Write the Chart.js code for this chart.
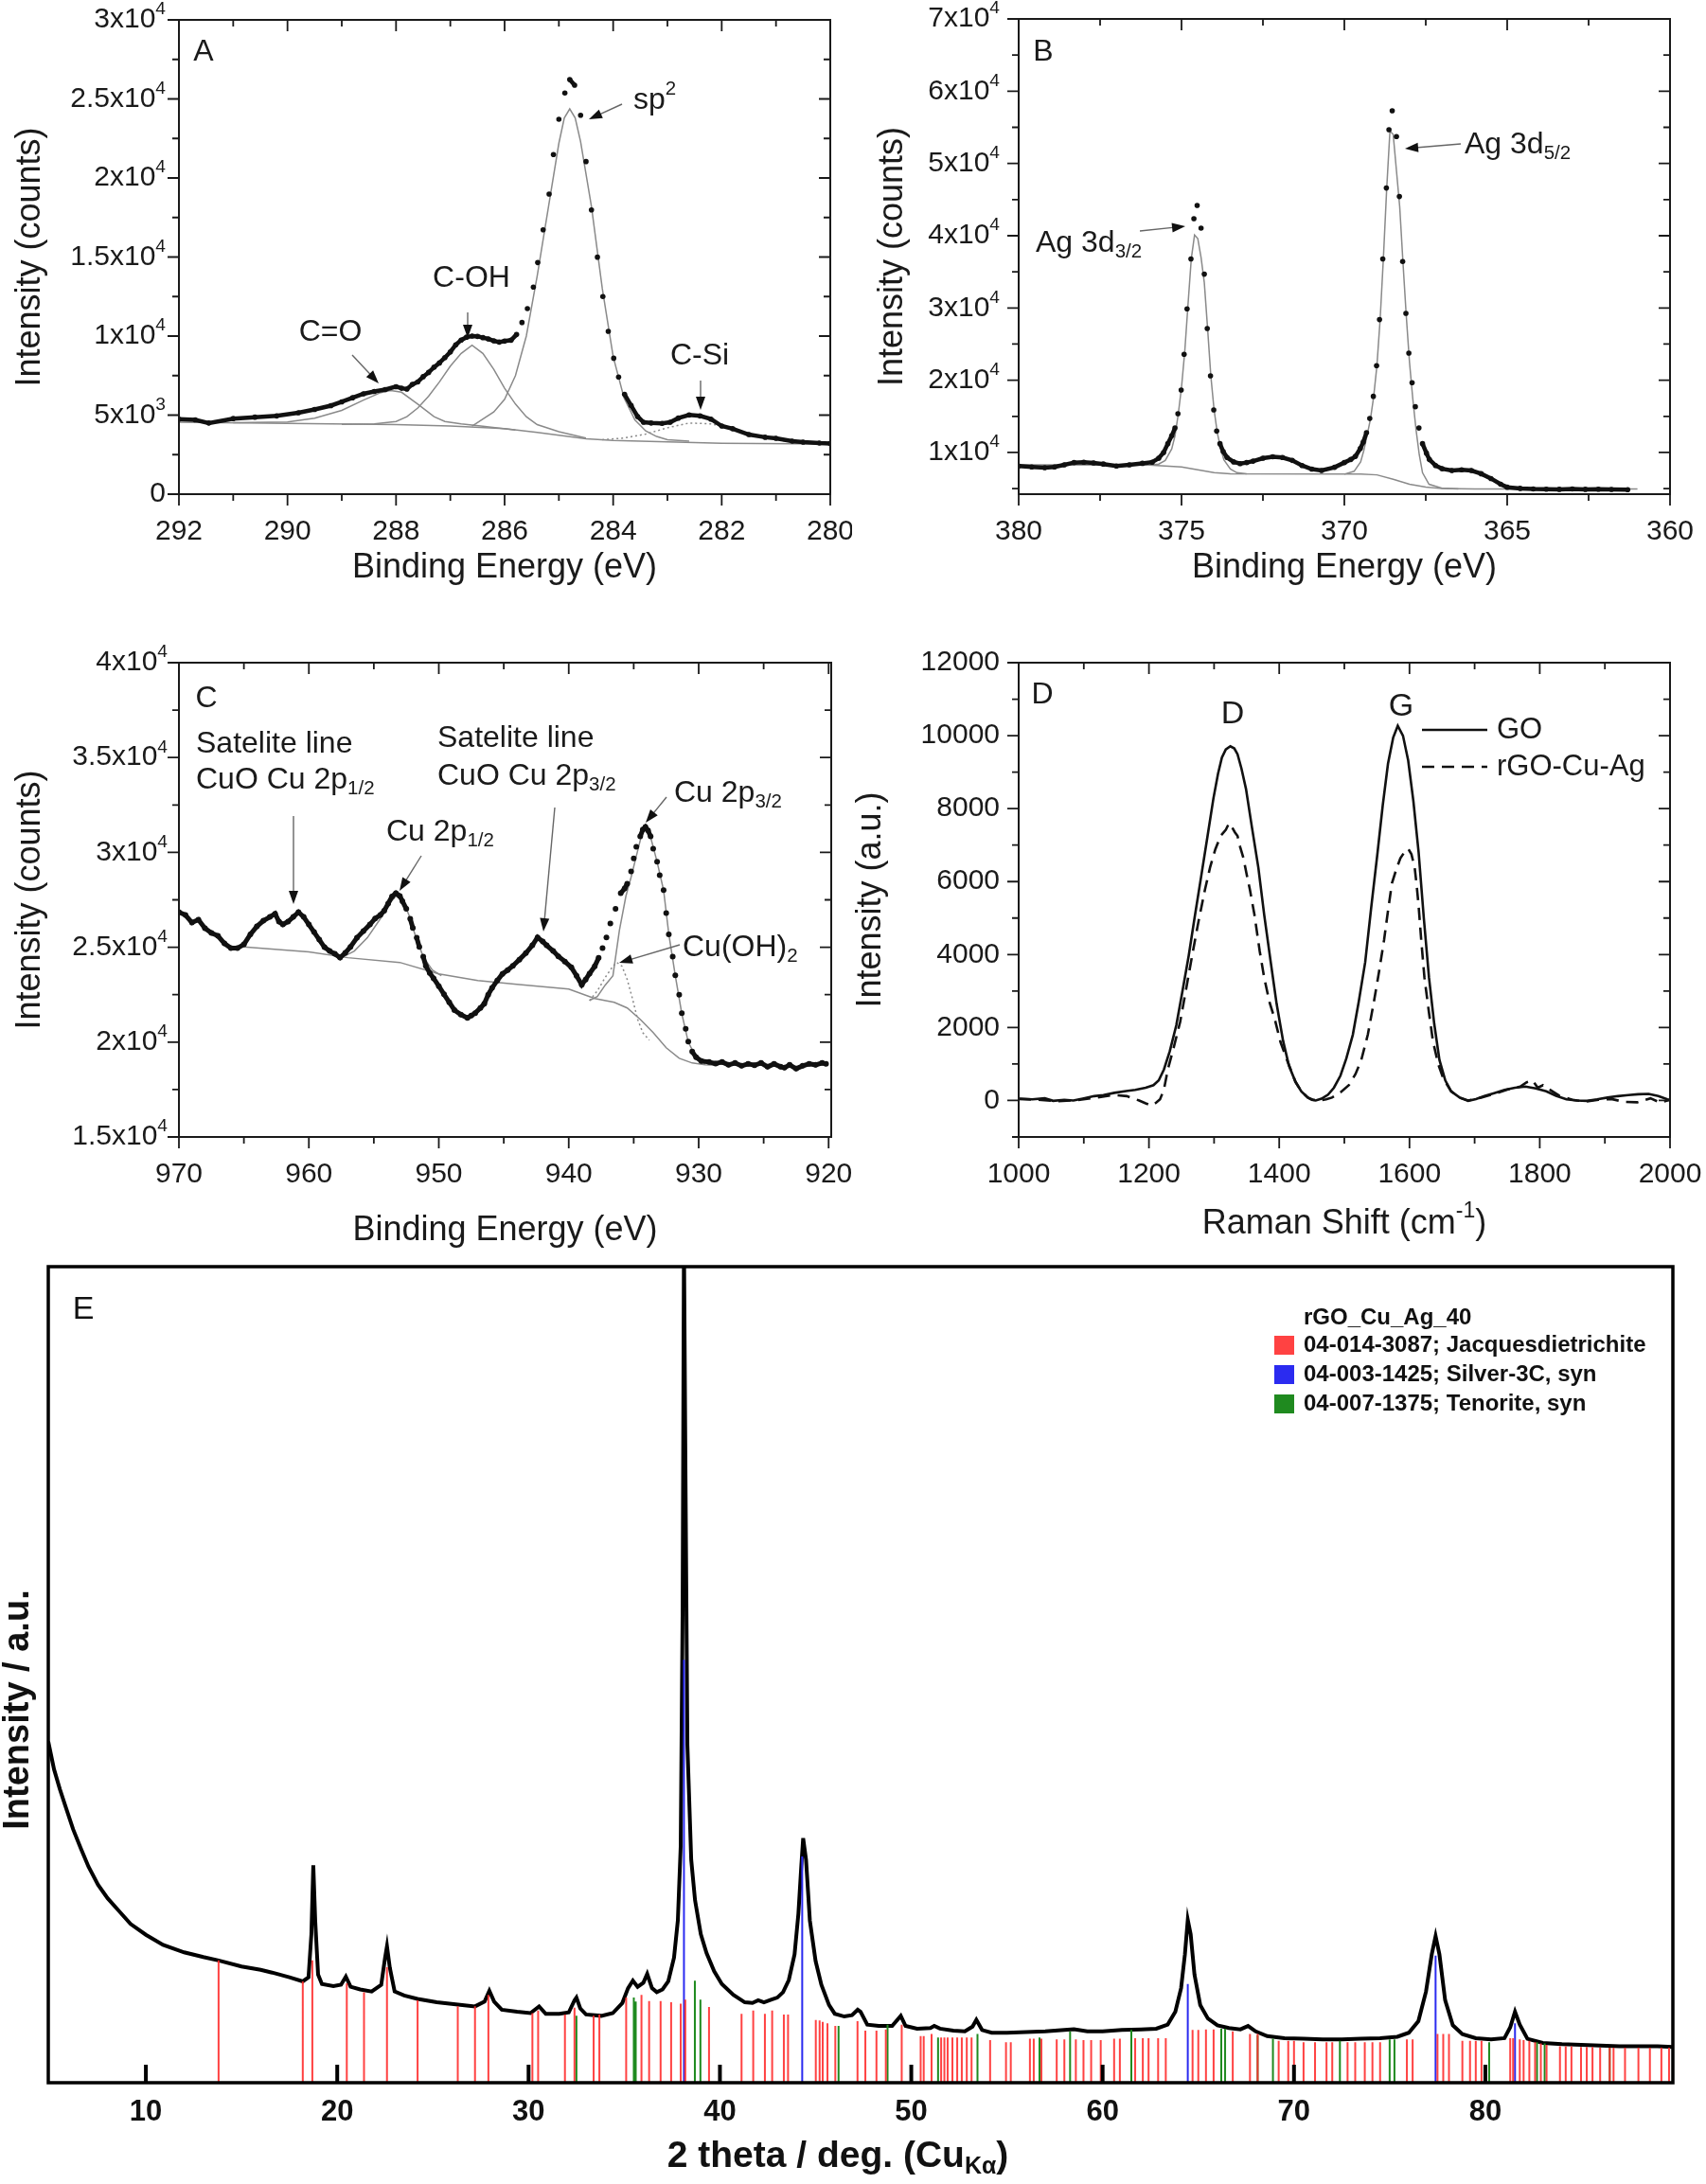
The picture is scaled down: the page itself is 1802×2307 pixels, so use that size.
<!DOCTYPE html>
<html>
<head>
<meta charset="utf-8">
<script src="https://cdn.jsdelivr.net/npm/chart.js@4.4.0/dist/chart.umd.min.js"></script>
<style>
  body { margin:0; background:#fff; width:1802px; height:2307px; position:relative; overflow:hidden; }
  canvas { position:absolute; }
</style>
</head>
<body>
<canvas id="cA" width="900" height="650" style="left:0;top:0"></canvas>
<canvas id="cB" width="902" height="650" style="left:900px;top:0"></canvas>
<canvas id="cC" width="900" height="680" style="left:0;top:650px"></canvas>
<canvas id="cD" width="902" height="680" style="left:900px;top:650px"></canvas>
<canvas id="cE" width="1802" height="1007" style="left:0;top:1300px"></canvas>
<script>
// ---- panel A : C 1s ----
const aE = [292,291.7,291.45,291,290.6,290.2,289.8,289.5,289.2,289,288.8,288.6,288.4,288.2,288,287.9,287.8,287.7,287.6,287.5,287.4,287.3,287.2,287.1,287,286.9,286.8,286.7,286.6,286.5,286.4,286.3,286.2,286.1,286,285.88,285.78,285.68,285.58,285.47,285.39,285.29,285.18,285.1,285,284.89,284.8,284.71,284.6,284.5,284.4,284.29,284.19,284.09,283.99,283.9,283.79,283.67,283.55,283.44,283.3,283.1,282.95,282.8,282.6,282.4,282.2,282,281.8,281.5,281.2,281,280.7,280.5,280.2,280];
const aCounts = [4750,4700,4500,4780,4870,4950,5150,5360,5600,5840,6100,6350,6500,6620,6800,6700,6650,6940,7100,7430,7700,8030,8300,8640,9000,9450,9750,9930,10000,9980,9900,9820,9700,9620,9680,9740,10100,10860,11740,13100,14650,16720,18980,21480,23710,25370,26230,25870,23970,21040,17980,14990,12500,10300,8600,7410,6310,5610,4910,4550,4500,4480,4550,4810,5010,4950,4750,4310,4140,3770,3600,3530,3350,3290,3230,3210];
const aBgE = [292,290,288,287,286,285.4,284.5,284,283,282,280];
const aBg = [4550,4480,4400,4310,4150,3910,3510,3400,3310,3220,3180];
const aCOE = [291,290,289.5,289,288.6,288.3,288.1,287.9,287.6,287.3,287.1,286.8,286.4,285.8];
const aCO = [4520,4570,4800,5300,5950,6400,6550,6450,5700,4900,4600,4450,4300,4050];
const aCOHE = [289,288.4,288,287.8,287.6,287.4,287.2,287,286.8,286.6,286.4,286.2,286,285.8,285.6,285.4,285,284.5];
const aCOH = [4420,4450,4600,4900,5450,6200,7100,8100,8900,9420,8900,7900,6700,5700,4900,4400,3950,3550];
const aSp2E = [286.6,286.2,286,285.8,285.6,285.4,285.2,285,284.9,284.8,284.7,284.6,284.4,284.2,284,283.8,283.6,283.4,283.2,283,282.6];
const aSp2 = [4300,5200,6000,7500,10000,13800,18000,22200,23800,24370,23800,22300,18200,13000,8700,6100,4700,4000,3650,3450,3350];
const aSiE = [284.2,283.8,283.4,283,282.6,282.2,281.8,281.4,281,280.6];
const aSi = [3450,3550,3800,4200,4500,4450,4150,3750,3450,3250];
const aXTicks = [292,290,288,286,284,282,280];
const aYTicks = [0,5000,10000,15000,20000,25000,30000];
const aYLabels = ['0','5x10^{3}','1x10^{4}','1.5x10^{4}','2x10^{4}','2.5x10^{4}','3x10^{4}'];

// ---- panel B : Ag 3d ----
const bE = [380,379.6,379.2,378.9,378.6,378.3,378,377.7,377.4,377,376.6,376.2,375.9,375.7,375.55,375.42,375.3,375.2,375.11,375.01,374.92,374.83,374.71,374.62,374.52,374.4,374.3,374.21,374.11,374.01,373.92,373.82,373.72,373.6,373.4,373.2,373,372.8,372.5,372.2,371.9,371.6,371.3,371,370.7,370.3,370,369.8,369.66,369.51,369.42,369.32,369.22,369.11,369.01,368.92,368.82,368.71,368.63,368.53,368.4,368.31,368.21,368.11,368.02,367.92,367.82,367.71,367.6,367.48,367.39,367.2,367,366.7,366.4,366.1,365.8,365.5,365.2,365,364.6,364.2,363.8,363.4,363,362.6,362.2,361.8,361.3];
const bCounts = [8130,8000,7900,8000,8300,8600,8660,8550,8400,8130,8300,8500,8660,9200,10000,11220,12310,13390,15360,18640,23580,29870,36780,42360,44190,41050,34680,27160,20600,15890,12960,11220,10120,9300,8700,8450,8600,8800,9200,9400,9300,8900,8200,7700,7500,7950,8600,9030,9460,10560,11430,12740,14700,17770,22010,28390,36780,46600,54680,57300,53720,45420,36420,29250,23750,19650,16330,13390,11220,9910,9030,8200,7750,7500,7600,7500,7060,6400,5600,5190,5030,4950,4920,4900,4950,4900,4920,4880,4850];
const bBgE = [380,376,375,374.5,374,373.5,369.5,369,368.5,368,367.5,367,366,361];
const bBg = [8300,8250,8000,7600,7200,7050,7000,6900,6300,5600,5200,5000,4950,4950];
const b32E = [376,375.7,375.5,375.3,375.2,375.1,375,374.9,374.8,374.7,374.6,374.5,374.4,374.3,374.2,374.1,374,373.9,373.8,373.7,373.5,373.3,373];
const b32 = [8250,8400,8900,10500,12300,15300,19000,24000,30500,36800,40100,39600,37000,33500,27200,20600,15900,12700,10600,9000,7700,7200,7050];
const b52E = [370,369.7,369.5,369.4,369.3,369.2,369.1,369,368.9,368.8,368.7,368.6,368.5,368.4,368.3,368.2,368.1,368,367.9,367.8,367.7,367.6,367.4,367,366.5];
const b52 = [7000,7400,8700,10300,12400,14600,17700,22000,28500,37000,46500,54500,54000,49000,44000,36300,29000,22500,17500,13200,9700,7200,5600,5050,4950];
const bXTicks = [380,375,370,365,360];
const bYTicks = [10000,20000,30000,40000,50000,60000,70000];
const bYLabels = ['1x10^{4}','2x10^{4}','3x10^{4}','4x10^{4}','5x10^{4}','6x10^{4}','7x10^{4}'];

// ---- panel C : Cu 2p ----
const cE = [970,969.5,969,968.5,968,967.5,967,966.5,966,965.5,965,964.5,964,963.5,963,962.6,962.3,962,961.6,961.2,960.8,960.4,960,959.6,959.2,958.8,958.4,958,957.6,957.2,956.8,956.3,955.8,955.3,954.9,954.5,954.2,953.9,953.6,953.3,953,952.8,952.5,952.2,952,951.7,951.5,951.2,951,950.7,950.4,950,949.6,949.2,948.8,948.3,947.8,947.5,947.2,946.8,946.5,946.2,945.9,945.5,945.1,944.7,944.3,943.8,943.3,942.8,942.4,942,941.7,941.2,940.8,940.3,939.8,939.4,939,938.7,938.4,938,937.7,937.4,937.1,936.8,936.4,936,935.7,935.5,935.2,935,934.8,934.5,934.3,934.1,933.9,933.7,933.5,933.2,933,932.7,932.5,932.3,932,931.8,931.5,931.3,931,930.8,930.5,930.2,929.8,929.2,928.7,928.2,927.7,927.2,926.7,926.2,925.7,925.2,924.7,924.2,923.7,923.4,923,922.5,922,921.5,921,920.5,920.2];
const cCounts = [26850,26700,26300,26450,26000,25750,25600,25200,24950,24950,25150,25680,26100,26400,26600,26770,26350,26200,26350,26600,26850,26600,26200,25800,25400,25000,24800,24650,24450,24700,25020,25500,25850,26200,26520,26700,26930,27300,27680,27850,27700,27430,27020,26500,26020,25500,25020,24500,24020,23650,23360,22950,22520,22100,21690,21450,21280,21400,21530,21800,22020,22500,22860,23250,23600,23800,24020,24350,24690,25100,25520,25300,25100,24800,24520,24250,23940,23500,23020,23300,23610,24000,24440,24950,25520,26250,27020,27850,28100,28350,29000,29680,30300,30840,31200,31340,31150,30840,30200,29510,28800,28010,26800,25680,24500,23520,22500,21530,20700,20030,19500,19200,19000,18950,18870,18950,18800,18900,18750,18850,18780,18900,18700,18850,18700,18650,18800,18600,18750,18850,18800,18900,18850];
const cBgE = [965,960,957,953,950,947,944,940,938,936.5,935.5,934.5,933.5,932.5,931.5,930.5,929.5,928.5];
const cBg = [25020,24750,24450,24200,23600,23250,23050,22800,22300,22100,21800,21200,20500,19700,19150,18900,18800,18780];
const c12E = [957.5,956.5,955.5,954.5,953.8,953.3,952.8,952.3,951.8,951.2,950.5,949.8];
const c12 = [24450,24800,25500,26500,27300,27700,27500,26700,25600,24500,23800,23500];
const c32E = [938.4,937.8,937.2,936.6,936.1,935.6,935.2,934.8,934.4,934.1,933.7,933.2,932.7,932.3,931.8,931.3,930.8,930.2,929.5];
const c32 = [22200,22400,23000,23500,25900,27700,28700,29800,30900,31300,30800,29500,28000,25700,23500,21500,20000,19200,18850];
const cOHE = [938.4,937.8,937.2,936.6,936.3,935.9,935.5,935.1,934.7,934.3,933.8];
const cOH = [22190,22700,23400,24000,24200,24000,23300,22300,21200,20500,20100];
const cXTicks = [970,960,950,940,930,920];
const cYTicks = [15000,20000,25000,30000,35000,40000];
const cYLabels = ['1.5x10^{4}','2x10^{4}','2.5x10^{4}','3x10^{4}','3.5x10^{4}','4x10^{4}'];

// ---- panel D : Raman ----
const dGOx = [1000,1021,1040,1053,1070,1084,1100,1116,1130,1147,1165,1179,1195,1207,1215,1223,1232,1242,1251,1261,1270,1280,1290,1299,1306,1312,1318,1325,1331,1336,1342,1349,1358,1368,1377,1387,1396,1406,1415,1425,1434,1444,1450,1456,1465,1475,1484,1494,1503,1513,1522,1532,1541,1551,1559,1567,1575,1582,1590,1598,1606,1614,1622,1630,1638,1646,1655,1664,1677,1690,1702,1715,1730,1746,1762,1778,1794,1810,1825,1841,1857,1873,1888,1904,1920,1936,1951,1967,1982,1996,2000];
const dGO = [50,30,60,-10,20,0,60,120,150,210,260,290,350,420,550,850,1350,2060,2950,3960,5000,6120,7250,8280,8950,9400,9620,9710,9650,9490,9100,8540,7500,6380,5080,3790,2650,1630,950,510,250,80,20,0,50,160,350,680,1150,1800,2700,3790,5250,6800,8100,9230,9950,10270,10000,9320,8200,6810,5000,3360,2100,1110,550,250,80,-10,40,120,200,290,350,380,330,250,130,30,0,-10,30,80,120,150,170,180,120,30,20];
const dRx = [1000,1030,1060,1090,1120,1145,1166,1175,1185,1195,1204,1211,1217,1223,1229,1238,1248,1257,1267,1276,1286,1294,1302,1310,1318,1323,1327,1332,1336,1340,1345,1350,1355,1362,1370,1377,1385,1393,1402,1412,1425,1434,1444,1452,1462,1472,1481,1494,1507,1517,1526,1536,1545,1553,1561,1567,1573,1580,1586,1592,1598,1603,1608,1611,1614,1618,1623,1630,1636,1644,1652,1664,1677,1690,1710,1730,1750,1770,1780,1789,1797,1805,1815,1830,1850,1870,1890,1910,1930,1950,1970,1985,2000];
const dR = [40,20,-20,10,80,150,120,60,0,-80,-140,-60,30,300,850,1450,2160,3050,4040,4900,5780,6400,6890,7250,7420,7600,7510,7350,7250,6950,6650,6200,5780,5090,4100,3360,2700,2240,1600,1110,510,250,80,20,0,30,80,220,420,720,1110,1800,2670,3500,4400,5200,5950,6350,6640,6800,6900,6750,6380,5900,5340,4400,3360,2400,1630,1000,600,250,80,0,80,180,300,380,500,550,350,420,300,130,20,-30,20,40,-40,-50,60,-60,20];
const dXTicks = [1000,1200,1400,1600,1800,2000];
const dYTicks = [0,2000,4000,6000,8000,10000,12000];

// ---- panel E : XRD ----
const eX = [4.9,5.2,5.5,5.8,6.2,6.6,7,7.5,8,8.6,9.2,10,10.9,12,13,13.8,15,16,16.6,17.5,18.2,18.5,18.65,18.75,18.85,19,19.2,19.8,20.2,20.45,20.7,21.2,21.8,22.3,22.5,22.6,22.75,23,23.5,24.2,25.2,26.2,27.2,27.7,27.95,28.2,28.6,29.4,30.1,30.55,30.9,31.6,32.1,32.4,32.5,32.7,33,33.8,34.4,34.9,35.2,35.45,35.7,36,36.2,36.45,36.7,37,37.3,37.6,37.8,37.95,38.05,38.12,38.2,38.3,38.5,38.7,39,39.3,39.7,40.1,40.7,41.3,41.7,42,42.3,42.7,43,43.3,43.6,43.9,44.1,44.25,44.35,44.5,44.7,45,45.3,45.7,46,46.5,46.9,47.2,47.35,47.7,48.3,49,49.45,49.7,50.3,51,51.2,51.5,52.2,52.8,53.2,53.4,53.7,54.2,55,56,57,58,58.5,59.2,60,61,62,62.8,63.4,63.8,64.1,64.3,64.45,64.6,64.8,65.1,65.5,66,66.6,67.2,67.6,68,68.6,69.5,70.5,71.5,72.5,73.5,74.5,75.4,76,76.5,76.9,77.2,77.4,77.6,77.9,78.3,78.8,79.5,80.3,81,81.3,81.55,81.8,82.2,83,84,85,86,87,88,89,89.8];
const eY = [50.5,46.4,43.5,40.9,37.5,34.7,32,29.3,27.3,25.4,23.5,21.9,20.4,19.3,18.6,18.1,17.2,16.7,16.3,15.6,15,15.6,22,32.2,24,16,14.6,14.3,14.5,15.7,14.2,13.8,13.5,14.5,18.5,20.2,17,13.5,12.9,12.4,11.9,11.6,11.3,12,13.6,12,10.8,10.5,10.3,11.3,10.2,10.2,10.4,12.2,12.6,11,10.1,9.9,10.3,11.8,14,15.1,14.2,14.8,16.1,14,13.4,13.8,15,18.5,24,35,70,125,90,50,33,27,22,19.2,16.5,14.6,13,11.9,11.8,12.2,11.9,12.3,12.6,13.4,15.2,19,25,32,36.2,33,24,18,14.5,11.5,10.2,9.8,10,10.8,10.5,8.6,8.4,8.4,9.9,8.4,8,8.1,8.4,8,7.7,7.6,8.3,9.3,7.8,7.4,7.4,7.5,7.6,7.8,7.9,7.6,7.6,7.8,7.9,8,8.6,10.5,14,19,24.1,22,16,11.5,9.5,8.5,8.1,7.9,8.4,7.6,6.9,6.6,6.5,6.4,6.4,6.5,6.6,6.8,7.4,9.1,13.5,19,21.7,19,12.2,8.5,7.2,6.6,6.4,6.6,8.2,10.5,8.6,6.5,5.9,5.7,5.6,5.5,5.4,5.4,5.4,5.3];
const redPos = [13.8,18.2,18.7,20.5,21.4,22.6,24.2,26.3,27.2,27.9,30.2,30.5,31.9,32.4,33.4,33.7,35.1,35.9,36.3,36.9,37.45,37.95,38.19,39.43,41.13,41.74,42.35,42.73,43.34,43.56,45.01,45.21,45.37,45.62,46.03,47.19,47.6,48.18,48.67,49.5,50.49,50.65,51.06,51.56,51.73,51.9,52.15,52.4,52.64,52.9,53.15,54.12,54.95,55.2,56.2,56.4,56.8,57.6,58,58.6,59,59.4,59.9,60.6,60.9,61.7,62.1,62.4,62.9,63.3,64.7,65,65.4,65.8,66.8,67.7,68.1,69.2,69.7,70,70.5,71.1,71.7,72,72.8,73.2,73.7,74.1,74.5,75.9,76.2,77.5,77.8,78.1,78.8,79.2,79.5,79.8,81.3,81.45,81.8,82,82.3,82.6,82.9,83.2,83.9,84.2,84.5,85,85.3,85.6,86,86.5,86.7,87.3,88,88.6,89.2,89.6];
const redH = [18.1,15,18.1,14.7,13.4,17.1,12.2,11.3,11.3,13,10.3,10.7,10.1,11.1,9.9,10.1,12.6,13,12.1,12.1,11.9,11.7,12.3,11.2,10.2,10.7,10.2,10.7,10.1,10.1,9.3,9.2,9,8.8,8.4,9.1,7.7,7.7,7.9,8.6,6.9,6.9,7.2,6.7,6.7,6.7,6.7,6.7,6.7,6.7,6.7,6.3,6,6,6.5,6.5,6.5,6.4,6.4,6.4,6.3,6.3,6.3,6.5,6.5,6.6,6.6,6.6,6.6,6.6,7.8,7.8,7.9,7.9,7.6,7.2,7.2,6.2,6.2,6.2,6,6,6,6,6,6,6,6,6,6.4,6.4,7.2,7.2,7.2,6.2,6.2,6.2,6.2,6.6,6.6,6.4,6.3,6.2,6,5.8,5.6,5.4,5.4,5.4,5.3,5.3,5.3,5.2,5.2,5.2,5.2,5.2,5.2,5.2,5.2];
const bluePos = [38.12,44.3,64.45,77.4,81.55];
const blueH = [62.6,33.5,14.6,18.8,8.8];
const greenPos = [32.5,35.5,35.6,38.69,38.98,46.2,48.76,51.4,53.46,56.7,58.3,61.5,66.2,66.4,68.1,68.9,72.4,75,75.25,80.2,82.7,83.1,86.5,89.8];
const greenH = [9.9,12.6,12,15.1,12.3,8.4,8.6,6.7,7.2,6.7,7.6,7.8,8,8,7,6.5,6.2,6.4,6.4,6,6,5.8,5.2,5.2];
const eXTicks = [10,20,30,40,50,60,70,80];
const eLegend = ['04-014-3087; Jacquesdietrichite','04-003-1425; Silver-3C, syn','04-007-1375; Tenorite, syn'];

const FONT = "'Liberation Sans', Arial, Helvetica, sans-serif";
const INK = '#1a1a1a', FIT = '#8a8a8a';
const pts = (xs, ys) => xs.map((x, i) => ({x: x, y: ys[i]}));
const sticks = (pos, h) => { const d = []; pos.forEach((p, i) => d.push({x:p,y:0},{x:p,y:h[i]},{x:p,y:null})); return d; };

// text with ^{sup} and _{sub}
function rich(ctx, text, x, y, size, align, bold) {
  const parts = [], re = /([\^_])\{([^}]*)\}/g;
  let last = 0, m;
  while ((m = re.exec(text))) {
    if (m.index > last) parts.push({t:text.slice(last, m.index), k:''});
    parts.push({t:m[2], k:m[1]});
    last = re.lastIndex;
  }
  if (last < text.length) parts.push({t:text.slice(last), k:''});
  const w = bold ? 'bold ' : '';
  let total = 0;
  parts.forEach(p => { p.s = p.k ? size * 0.64 : size; ctx.font = w + p.s + 'px ' + FONT; p.w = ctx.measureText(p.t).width; total += p.w; });
  let cx = align === 'center' ? x - total / 2 : align === 'right' ? x - total : x;
  ctx.textBaseline = 'middle'; ctx.textAlign = 'left';
  parts.forEach(p => {
    ctx.font = w + p.s + 'px ' + FONT;
    const dy = p.k === '^' ? -size * 0.36 : p.k === '_' ? size * 0.28 : 0;
    ctx.fillText(p.t, cx, y + dy);
    cx += p.w;
  });
}

function arrow(ctx, x1, y1, x2, y2) {
  const a = Math.atan2(y2 - y1, x2 - x1), L = 14, W = 5;
  ctx.strokeStyle = '#666'; ctx.lineWidth = 1.4;
  ctx.beginPath(); ctx.moveTo(x1, y1); ctx.lineTo(x2 - L * 0.8 * Math.cos(a), y2 - L * 0.8 * Math.sin(a)); ctx.stroke();
  ctx.fillStyle = '#111';
  ctx.beginPath(); ctx.moveTo(x2, y2);
  ctx.lineTo(x2 - L * Math.cos(a) + W * Math.sin(a), y2 - L * Math.sin(a) - W * Math.cos(a));
  ctx.lineTo(x2 - L * Math.cos(a) - W * Math.sin(a), y2 - L * Math.sin(a) + W * Math.cos(a));
  ctx.closePath(); ctx.fill();
}

// frame, ticks, labels and notes for the four small panels
function panelPlugin(o) {
  return {
    id: 'panel' + o.key,
    afterDraw(chart) {
      const ctx = chart.ctx, a = chart.chartArea, xs = chart.scales.x, ys = chart.scales.y;
      const ox = o.ox, oy = o.oy;
      ctx.save();
      ctx.strokeStyle = INK; ctx.lineWidth = 2;
      ctx.strokeRect(a.left, a.top, a.right - a.left, a.bottom - a.top);
      const minors = (lo, hi, step) => { const r = []; for (let v = Math.ceil(lo / step - 1e-9) * step; v <= hi + 1e-9; v += step) r.push(+v.toFixed(6)); return r; };
      ctx.lineWidth = 1.8;
      minors(xs.min, xs.max, o.xMinor).forEach(v => {
        const px = xs.getPixelForValue(v), L = o.xTicks.includes(v) ? 12 : 7;
        ctx.beginPath(); ctx.moveTo(px, a.bottom); ctx.lineTo(px, a.bottom + L); ctx.moveTo(px, a.top); ctx.lineTo(px, a.top + L); ctx.stroke();
      });
      minors(ys.min, ys.max, o.yMinor).forEach(v => {
        const py = ys.getPixelForValue(v), L = o.yTicks.includes(v) ? 12 : 7;
        ctx.beginPath(); ctx.moveTo(a.left, py); ctx.lineTo(a.left - L, py); ctx.moveTo(a.right, py); ctx.lineTo(a.right - L, py); ctx.stroke();
      });
      ctx.fillStyle = INK;
      o.xTicks.forEach(v => rich(ctx, String(v), xs.getPixelForValue(v), a.bottom + 40, 30, 'center'));
      o.yTicks.forEach((v, i) => rich(ctx, o.yLabels ? o.yLabels[i] : String(v), a.left - o.yGap, ys.getPixelForValue(v), 30, 'right'));
      rich(ctx, o.xTitle, (a.left + a.right) / 2, o.xTitleY - oy, 36, 'center');
      ctx.save(); ctx.translate(o.yTitleX - ox, (a.top + a.bottom) / 2); ctx.rotate(-Math.PI / 2);
      rich(ctx, o.yTitle, 0, 0, 36, 'center'); ctx.restore();
      rich(ctx, o.letter[0], o.letter[1] - ox, o.letter[2] - oy, 32, 'center');
      (o.notes || []).forEach(n => rich(ctx, n[0], n[1] - ox, n[2] - oy, n[3] || 32, n[4] || 'left'));
      (o.arrows || []).forEach(r => arrow(ctx, r[0] - ox, r[1] - oy, r[2] - ox, r[3] - oy));
      if (o.after) o.after(ctx, a, ox, oy);
      ctx.restore();
    }
  };
}

const hideSteep = c => {
  const dx = Math.abs(c.p1.x - c.p0.x), dy = Math.abs(c.p1.y - c.p0.y);
  return (dy > 2.2 * dx && dy > 10) ? 'rgba(0,0,0,0)' : '#111';
};
const measured = (xs, ys, w, r) => ({data: pts(xs, ys), showLine: true, borderColor: '#111', borderWidth: w, pointRadius: r, pointBackgroundColor: '#111', pointBorderWidth: 0, segment: {borderColor: hideSteep}, order: 0});
const fit = (xs, ys, dash) => ({data: pts(xs, ys), showLine: true, borderColor: FIT, borderWidth: 1.5, pointRadius: 0, borderDash: dash || [], order: 1});

function opts(pad, xr, yr, rev) {
  return {
    responsive: false, animation: false, events: [],
    layout: {padding: pad, autoPadding: false},
    plugins: {legend: {display: false}, tooltip: {enabled: false}},
    scales: {
      x: {type: 'linear', display: false, min: xr[0], max: xr[1], reverse: !!rev},
      y: {type: 'linear', display: false, min: yr[0], max: yr[1]}
    },
    elements: {line: {tension: 0}}
  };
}

new Chart(document.getElementById('cA'), {
  type: 'scatter',
  data: {datasets: [measured(aE, aCounts, 4.5, 2.8), fit(aBgE, aBg), fit(aCOE, aCO), fit(aCOHE, aCOH), fit(aSp2E, aSp2), fit(aSiE, aSi, [2, 3])]},
  options: opts({left: 189, top: 21, right: 23, bottom: 128}, [280, 292], [0, 30000], true),
  plugins: [panelPlugin({key: 'A', ox: 0, oy: 0, xTicks: aXTicks, xMinor: 1, yTicks: aYTicks, yMinor: 2500, yLabels: aYLabels, yGap: 14,
    xTitle: 'Binding Energy (eV)', xTitleY: 600, yTitle: 'Intensity (counts)', yTitleX: 32, letter: ['A', 215, 55],
    notes: [['sp^{2}', 669, 106], ['C-OH', 498, 294, 32, 'center'], ['C=O', 349, 351, 32, 'center'], ['C-Si', 739, 376, 32, 'center']],
    arrows: [[657, 110, 622, 126], [494, 330, 494, 357], [372, 375, 400, 405], [740, 402, 740, 433]]})]
});

new Chart(document.getElementById('cB'), {
  type: 'scatter',
  data: {datasets: [measured(bE, bCounts, 4.5, 2.8), fit(bBgE, bBg), fit(b32E, b32), fit(b52E, b52)]},
  options: opts({left: 176, top: 20, right: 38, bottom: 128}, [360, 380], [4230, 70000], true),
  plugins: [panelPlugin({key: 'B', ox: 900, oy: 0, xTicks: bXTicks, xMinor: 2.5, yTicks: bYTicks, yMinor: 5000, yLabels: bYLabels, yGap: 20,
    xTitle: 'Binding Energy (eV)', xTitleY: 600, yTitle: 'Intensity (counts)', yTitleX: 943, letter: ['B', 1102, 55],
    notes: [['Ag 3d_{5/2}', 1547, 153], ['Ag 3d_{3/2}', 1094, 257]],
    arrows: [[1543, 152, 1484, 157], [1204, 244, 1252, 239]]})]
});

new Chart(document.getElementById('cC'), {
  type: 'scatter',
  data: {datasets: [measured(cE, cCounts, 5, 3), fit(cBgE, cBg), fit(c12E, c12), fit(c32E, c32), fit(cOHE, cOH, [2, 3])]},
  options: opts({left: 189, top: 50, right: 22, bottom: 129}, [919.8, 970], [15000, 40000], true),
  plugins: [panelPlugin({key: 'C', ox: 0, oy: 650, xTicks: cXTicks, xMinor: 5, yTicks: cYTicks, yMinor: 2500, yLabels: cYLabels, yGap: 12,
    xTitle: 'Binding Energy (eV)', xTitleY: 1300, yTitle: 'Intensity (counts)', yTitleX: 32, letter: ['C', 218, 738],
    notes: [['Satelite line', 207, 786], ['CuO Cu 2p_{1/2}', 207, 824], ['Cu 2p_{1/2}', 408, 879], ['Satelite line', 462, 780], ['CuO Cu 2p_{3/2}', 462, 820], ['Cu 2p_{3/2}', 712, 838], ['Cu(OH)_{2}', 721, 1001]],
    arrows: [[310, 862, 310, 955], [445, 904, 422, 941], [586, 853, 574, 984], [704, 842, 682, 869], [718, 998, 654, 1017]]})]
});

new Chart(document.getElementById('cD'), {
  type: 'scatter',
  data: {datasets: [
    {data: pts(dGOx, dGO), showLine: true, borderColor: '#111', borderWidth: 2.6, pointRadius: 0},
    {data: pts(dRx, dR), showLine: true, borderColor: '#111', borderWidth: 2.6, pointRadius: 0, borderDash: [13, 8]}
  ]},
  options: opts({left: 176, top: 50, right: 38, bottom: 129}, [1000, 2000], [-1000, 12000]),
  plugins: [panelPlugin({key: 'D', ox: 900, oy: 650, xTicks: dXTicks, xMinor: 100, yTicks: dYTicks, yMinor: 1000, yGap: 20,
    xTitle: 'Raman Shift (cm^{-1})', xTitleY: 1293, yTitle: 'Intensity (a.u.)', yTitleX: 920, letter: ['D', 1101, 734],
    notes: [['D', 1302, 755, 34, 'center'], ['G', 1480, 747, 34, 'center'], ['GO', 1581, 771, 31], ['rGO-Cu-Ag', 1581, 810, 31]],
    after(ctx, a, ox, oy) {
      ctx.strokeStyle = '#111'; ctx.lineWidth = 2.6;
      ctx.beginPath(); ctx.moveTo(1502 - ox, 771 - oy); ctx.lineTo(1571 - ox, 771 - oy); ctx.stroke();
      ctx.setLineDash([13, 8]);
      ctx.beginPath(); ctx.moveTo(1502 - ox, 810 - oy); ctx.lineTo(1571 - ox, 810 - oy); ctx.stroke();
      ctx.setLineDash([]);
    }})]
});

const RED = 'rgba(255,45,45,0.9)', BLUE = '#2b2bf0', GREEN = '#1f8a1f';
const stickSet = (pos, h, col) => ({data: sticks(pos, h), showLine: true, borderColor: col, borderWidth: 2, pointRadius: 0, spanGaps: false, order: 0});
const eOY = 1300;
new Chart(document.getElementById('cE'), {
  type: 'scatter',
  data: {datasets: [
    stickSet(redPos, redH, RED), stickSet(greenPos, greenH, GREEN), stickSet(bluePos, blueH, BLUE),
    {data: pts(eX, eY), showLine: true, borderColor: '#000', borderWidth: 4, pointRadius: 0, order: 1}
  ]},
  options: opts({left: 51, top: 38, right: 35, bottom: 107}, [4.9, 89.8], [0, 120.8]),
  plugins: [{
    id: 'panelE',
    afterDraw(chart) {
      const ctx = chart.ctx, a = chart.chartArea, xs = chart.scales.x;
      ctx.save();
      ctx.strokeStyle = '#000'; ctx.lineWidth = 3.5;
      ctx.strokeRect(a.left, a.top, a.right - a.left, a.bottom - a.top);
      ctx.lineWidth = 4;
      ctx.fillStyle = '#111';
      eXTicks.forEach(v => {
        const px = xs.getPixelForValue(v);
        ctx.beginPath(); ctx.moveTo(px, a.bottom); ctx.lineTo(px, a.bottom - 19); ctx.stroke();
        rich(ctx, String(v), px, 2231 - eOY, 31, 'center', true);
      });
      rich(ctx, '2 theta / deg. (Cu_{K\u03b1})', 885, 2278 - eOY, 39, 'center', true);
      ctx.save(); ctx.translate(20, 1806 - eOY); ctx.rotate(-Math.PI / 2);
      rich(ctx, 'Intensity / a.u.', 0, 0, 38, 'center', true); ctx.restore();
      rich(ctx, 'E', 88, 1384 - eOY, 34, 'center');
      rich(ctx, 'rGO_Cu_Ag_40', 1377, 1392 - eOY, 24, 'left', true);
      [RED, BLUE, GREEN].forEach((c, i) => {
        const y = 1421 + i * 31 - eOY;
        ctx.fillStyle = c; ctx.fillRect(1346, y - 10, 21, 20);
        ctx.fillStyle = '#111';
        rich(ctx, eLegend[i], 1377, y, 24, 'left', true);
      });
      ctx.restore();
    }
  }]
});
</script>
</body>
</html>
